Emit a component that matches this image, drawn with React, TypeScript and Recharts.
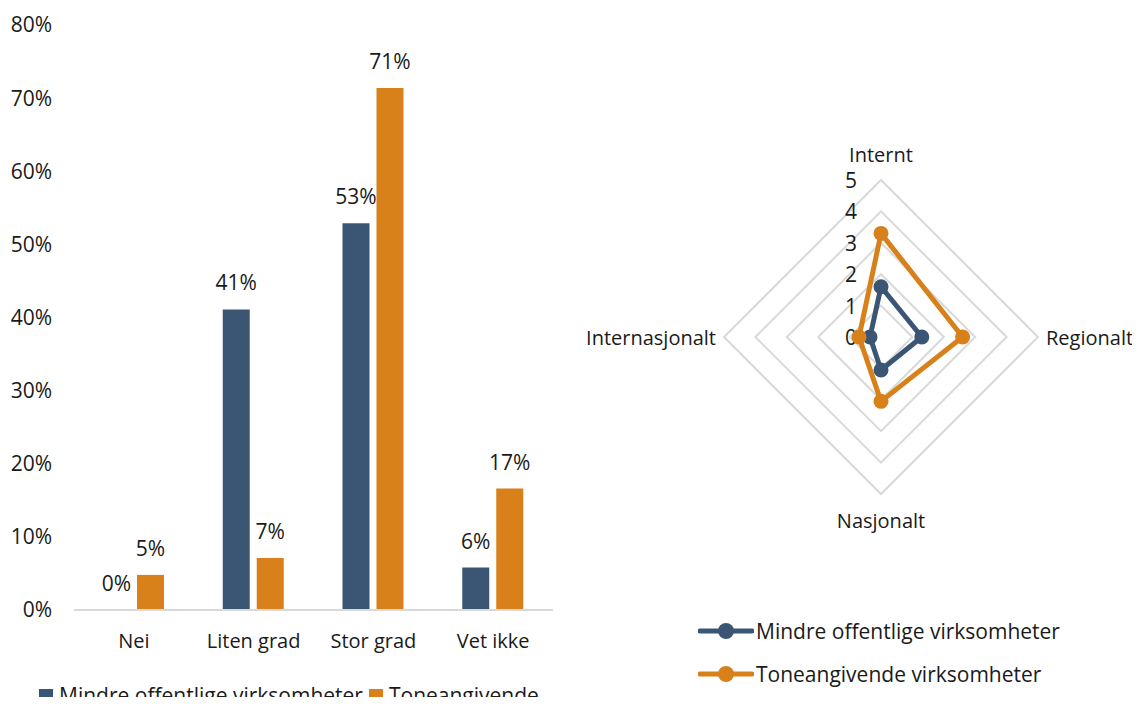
import React from 'react';
import {
  BarChart, Bar, XAxis, YAxis, LabelList, Legend,
  RadarChart, Radar, PolarGrid, PolarAngleAxis, PolarRadiusAxis,
} from 'recharts';

const categories = ['Nei', 'Liten grad', 'Stor grad', 'Vet ikke'];
const mindreBar = [0, 41.1, 52.9, 5.8];
const toneBar = [4.8, 7.1, 71.4, 16.6];
const yTicks = [0, 10, 20, 30, 40, 50, 60, 70, 80];

const radarAxes = ['Internt', 'Regionalt', 'Nasjonalt', 'Internasjonalt'];
const mindreRadar = [1.6, 1.3, 1.05, 0.35];
const toneRadar = [3.3, 2.6, 2.05, 0.7];
const radarTicks = [0, 1, 2, 3, 4, 5];

const BLUE = '#3b5675';
const ORANGE = '#d8801a';
const FONT = '"Open Sans", sans-serif';
const TEXT = '#1a1a1a';

const barData = categories.map((name, i) => ({ name, mindre: mindreBar[i], tone: toneBar[i] }));
const radarData = radarAxes.map((axis, i) => ({ axis, mindre: mindreRadar[i], tone: toneRadar[i] }));

const pct = (v: number) => `${Math.round(v)}%`;

const BarLegend = (props: any) => {
  const { payload = [] } = props;
  return (
    <div style={{ width: 522, fontFamily: FONT, fontSize: 21, color: TEXT, lineHeight: '28px' }}>
      {payload.map((p: any) => (
        <span key={p.value} style={{ marginRight: 6 }}>
          <span style={{ display: 'inline-block', width: 14, height: 14, background: p.color, marginRight: 6 }} />
          {p.value}
        </span>
      ))}
    </div>
  );
};

const RadarLegend = (props: any) => {
  const { payload = [] } = props;
  return (
    <div style={{ fontFamily: FONT, fontSize: 21, color: TEXT }}>
      {payload.map((p: any) => (
        <div key={p.value} style={{ display: 'flex', alignItems: 'center', height: 43 }}>
          <svg width={56} height={18} style={{ marginRight: 2 }}>
            <line x1={2} y1={9} x2={54} y2={9} stroke={p.color} strokeWidth={5} strokeLinecap="round" />
            <circle cx={28} cy={9} r={8} fill={p.color} />
          </svg>
          <span>{p.value}</span>
        </div>
      ))}
    </div>
  );
};

const CX = 301;
const CY = 337;

const AngleTick = (props: any) => {
  const { x, y, payload } = props;
  let anchor: 'start' | 'middle' | 'end' = 'middle';
  let dy = 0;
  if (Math.abs(x - CX) < 1) {
    dy = y < CY ? -18 : 18;
  } else if (x > CX) {
    anchor = 'start';
  } else {
    anchor = 'end';
  }
  return (
    <text x={x} y={y + dy} textAnchor={anchor} dominantBaseline="central"
      fontFamily={FONT} fontSize={20} fill={TEXT}>
      {payload.value}
    </text>
  );
};

const RadiusTick = (props: any) => {
  const { x, y, payload } = props;
  return (
    <text x={x - 24} y={y} textAnchor="end" dominantBaseline="central"
      fontFamily={FONT} fontSize={21} fill={TEXT}>
      {payload.value}
    </text>
  );
};

const makeDot = (color: string) => (props: any) => {
  const { cx, cy, index } = props;
  return <circle key={`d-${color}-${index}`} cx={cx} cy={cy} r={7.5} fill={color} />;
};

export default function App() {
  return (
    <div style={{ position: 'relative', margin: -8, width: 1140, height: 705, overflow: 'hidden', background: '#fff' }}>
      <div style={{ position: 'absolute', left: 0, top: 0 }}>
        <BarChart width={560} height={705} data={barData} barSize={27} barGap={7}
          margin={{ top: 25, right: 7, left: 0, bottom: 0 }}>
          <XAxis dataKey="name" height={95} tickLine={false} axisLine={{ stroke: '#d9d9d9', strokeWidth: 2 }}
            tickMargin={18} interval={0}
            tick={{ fontFamily: FONT, fontSize: 20, fill: TEXT }} />
          <YAxis domain={[0, 80]} ticks={yTicks} width={74} tickLine={false} axisLine={false}
            tickSize={0} tickMargin={22} tickFormatter={(v: number) => `${v}%`}
            tick={{ fontFamily: FONT, fontSize: 21, fill: TEXT }} />
          <Legend layout="vertical" align="center" verticalAlign="middle" content={BarLegend}
            wrapperStyle={{ left: 39, top: 681, width: 522 }} />
          <Bar dataKey="mindre" name="Mindre offentlige virksomheter" fill={BLUE} minPointSize={0.01}
            isAnimationActive={false}>
            <LabelList dataKey="mindre" position="top" offset={19} formatter={pct}
              style={{ fontFamily: FONT, fontSize: 21, fill: TEXT }} />
          </Bar>
          <Bar dataKey="tone" name="Toneangivende virksomheter" fill={ORANGE} isAnimationActive={false}>
            <LabelList dataKey="tone" position="top" offset={19} formatter={pct}
              style={{ fontFamily: FONT, fontSize: 21, fill: TEXT }} />
          </Bar>
        </BarChart>
      </div>
      <div style={{ position: 'absolute', left: 580, top: 0 }}>
        <RadarChart width={560} height={705} data={radarData} cx={CX} cy={CY} outerRadius={157}
          margin={{ top: 0, right: 0, bottom: 0, left: 0 }}>
          <PolarGrid gridType="polygon" radialLines={false} stroke="#d9d9d9" strokeWidth={2} />
          <PolarAngleAxis dataKey="axis" tick={AngleTick} tickLine={false} axisLine={false} />
          <PolarRadiusAxis angle={90} domain={[0, 5]} ticks={radarTicks as any} tickCount={6}
            axisLine={false} tick={RadiusTick} />
          <Legend layout="vertical" align="center" verticalAlign="middle" content={RadarLegend}
            wrapperStyle={{ left: 118, top: 609 }} />
          <Radar dataKey="mindre" name="Mindre offentlige virksomheter" stroke={BLUE} strokeWidth={5}
            strokeLinejoin="round" fill="none" fillOpacity={0} dot={makeDot(BLUE)}
            isAnimationActive={false} />
          <Radar dataKey="tone" name="Toneangivende virksomheter" stroke={ORANGE} strokeWidth={5}
            strokeLinejoin="round" fill="none" fillOpacity={0} dot={makeDot(ORANGE)}
            isAnimationActive={false} />
        </RadarChart>
      </div>
    </div>
  );
}
